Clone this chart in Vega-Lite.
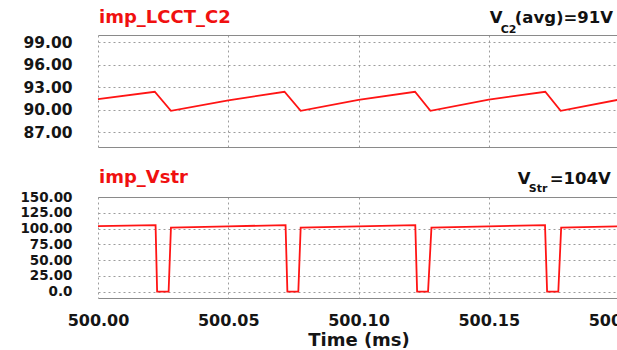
{
  "$schema": "https://vega.github.io/schema/vega-lite/v6.json",
  "background": "white",
  "padding": {"left": 19, "top": 8, "right": 0, "bottom": 0},
  "spacing": 21,
  "config": {
    "view": {"stroke": null},
    "axis": {
      "labelFont": "DejaVu Sans",
      "labelFontWeight": "bold",
      "labelFontSize": 15.5,
      "labelColor": "#151515",
      "labelOverlap": false,
      "labelFlush": false,
      "ticks": false,
      "tickSize": 0,
      "domain": false,
      "gridColor": "#9c9c9c",
      "gridDash": [2, 3],
      "gridWidth": 1
    }
  },
  "datasets": {
    "c2": [
      {"t": 500.0, "v": 91.41},
      {"t": 500.0218, "v": 92.4},
      {"t": 500.028, "v": 89.84},
      {"t": 500.05, "v": 91.25},
      {"t": 500.0716, "v": 92.4},
      {"t": 500.0778, "v": 89.84},
      {"t": 500.1, "v": 91.3},
      {"t": 500.1217, "v": 92.4},
      {"t": 500.1276, "v": 89.84},
      {"t": 500.15, "v": 91.35},
      {"t": 500.1717, "v": 92.4},
      {"t": 500.1776, "v": 89.84},
      {"t": 500.2, "v": 91.35}
    ],
    "vstr": [
      {"t": 500.0, "v": 104},
      {"t": 500.0221, "v": 105.5},
      {"t": 500.0227, "v": 0},
      {"t": 500.0271, "v": 0},
      {"t": 500.028, "v": 101.5},
      {"t": 500.05, "v": 103.5},
      {"t": 500.072, "v": 105.5},
      {"t": 500.0727, "v": 0},
      {"t": 500.0769, "v": 0},
      {"t": 500.0778, "v": 101.5},
      {"t": 500.1, "v": 103.5},
      {"t": 500.1218, "v": 105.5},
      {"t": 500.1225, "v": 0},
      {"t": 500.1267, "v": 0},
      {"t": 500.128, "v": 101.5},
      {"t": 500.15, "v": 103.5},
      {"t": 500.1716, "v": 105.5},
      {"t": 500.1724, "v": 0},
      {"t": 500.1767, "v": 0},
      {"t": 500.1778, "v": 101.5},
      {"t": 500.2, "v": 103.5}
    ]
  },
  "vconcat": [
    {
      "width": 521,
      "height": 112,
      "resolve": {"axis": {"x": "independent", "y": "independent"}},
      "layer": [
        {
          "data": {"name": "c2"},
          "mark": {"type": "line", "color": "#ff1414", "strokeWidth": 1.8},
          "encoding": {
            "x": {"field": "t", "type": "quantitative",
                  "scale": {"domain": [500, 500.2], "nice": false, "zero": false},
                  "axis": {"orient": "bottom", "values": [500, 500.05, 500.1, 500.15, 500.2], "labels": false, "title": null, "grid": true, "domain": true, "domainColor": "#8a8a8a"}},
            "y": {"field": "v", "type": "quantitative",
                  "scale": {"domain": [85, 100], "nice": false, "zero": false},
                  "axis": {"orient": "left", "values": [87, 90, 93, 96, 99], "format": ".2f", "title": null, "labelPadding": 26, "grid": true}}
          }
        },
        {
          "data": {"values": [{"text": "imp_LCCT_C2"}]},
          "mark": {"type": "text", "align": "left", "baseline": "alphabetic", "dx": 1, "dy": -12.5, "font": "DejaVu Sans", "fontWeight": "bold", "fontSize": 18, "color": "#f01010"},
          "encoding": {
            "x": {"datum": 500, "type": "quantitative", "scale": {"domain": [500, 500.2], "nice": false, "zero": false},
                  "axis": {"orient": "top", "labels": false, "grid": false, "domain": true, "domainColor": "#8a8a8a", "title": null}},
            "y": {"datum": 100, "type": "quantitative", "scale": {"domain": [85, 100], "nice": false, "zero": false}, "axis": null},
            "text": {"field": "text"}
          }
        },
        {
          "data": {"values": [{"text": "V"}]},
          "mark": {"type": "text", "align": "left", "baseline": "alphabetic", "dx": 1, "dy": -11.7, "font": "DejaVu Sans", "fontWeight": "bold", "fontSize": 16.5, "color": "#111"},
          "encoding": {
            "x": {"datum": 500.15, "type": "quantitative", "scale": {"domain": [500, 500.2], "nice": false, "zero": false}, "axis": null},
            "y": {"datum": 100, "type": "quantitative", "scale": {"domain": [85, 100], "nice": false, "zero": false}, "axis": null},
            "text": {"field": "text"}
          }
        },
        {
          "data": {"values": [{"text": "C2"}]},
          "mark": {"type": "text", "align": "left", "baseline": "alphabetic", "dx": 12, "dy": -2.5, "font": "DejaVu Sans", "fontWeight": "bold", "fontSize": 11, "color": "#111"},
          "encoding": {
            "x": {"datum": 500.15, "type": "quantitative", "scale": {"domain": [500, 500.2], "nice": false, "zero": false}, "axis": null},
            "y": {"datum": 100, "type": "quantitative", "scale": {"domain": [85, 100], "nice": false, "zero": false}, "axis": null},
            "text": {"field": "text"}
          }
        },
        {
          "data": {"values": [{"text": "(avg)=91V"}]},
          "mark": {"type": "text", "align": "left", "baseline": "alphabetic", "dx": 26, "dy": -11.7, "font": "DejaVu Sans", "fontWeight": "bold", "fontSize": 16.5, "color": "#111"},
          "encoding": {
            "x": {"datum": 500.15, "type": "quantitative", "scale": {"domain": [500, 500.2], "nice": false, "zero": false}, "axis": null},
            "y": {"datum": 100, "type": "quantitative", "scale": {"domain": [85, 100], "nice": false, "zero": false}, "axis": null},
            "text": {"field": "text"}
          }
        }
      ]
    },
    {
      "width": 521,
      "height": 101,
      "resolve": {"axis": {"x": "independent", "y": "independent"}},
      "layer": [
        {
          "data": {"name": "vstr"},
          "mark": {"type": "line", "color": "#ff1414", "strokeWidth": 1.8},
          "encoding": {
            "x": {"field": "t", "type": "quantitative",
                  "scale": {"domain": [500, 500.2], "nice": false, "zero": false},
                  "axis": {"orient": "bottom", "values": [500, 500.05, 500.1, 500.15, 500.2], "format": ".2f", "labelFontSize": 16, "labelPadding": 14, "grid": true, "domain": true, "domainColor": "#8a8a8a",
                           "title": "Time (ms)", "titleFont": "DejaVu Sans", "titleFontWeight": "bold", "titleFontSize": 18, "titleColor": "#151515", "titlePadding": 3}},
            "y": {"field": "v", "type": "quantitative",
                  "scale": {"domain": [-10, 150], "nice": false, "zero": false},
                  "axis": {"orient": "left", "values": [0, 25, 50, 75, 100, 125, 150], "labelExpr": "datum.value == 0 ? '0.0' : format(datum.value, '.2f')", "labelFontSize": 13.5, "title": null, "labelPadding": 26, "grid": true}}
          }
        },
        {
          "data": {"values": [{"text": "imp_Vstr"}]},
          "mark": {"type": "text", "align": "left", "baseline": "alphabetic", "dx": 1, "dy": -14.4, "font": "DejaVu Sans", "fontWeight": "bold", "fontSize": 18, "color": "#f01010"},
          "encoding": {
            "x": {"datum": 500, "type": "quantitative", "scale": {"domain": [500, 500.2], "nice": false, "zero": false},
                  "axis": {"orient": "top", "labels": false, "grid": false, "domain": true, "domainColor": "#8a8a8a", "title": null}},
            "y": {"datum": 150, "type": "quantitative", "scale": {"domain": [-10, 150], "nice": false, "zero": false}, "axis": null},
            "text": {"field": "text"}
          }
        },
        {
          "data": {"values": [{"text": "V"}]},
          "mark": {"type": "text", "align": "left", "baseline": "alphabetic", "dx": 29, "dy": -13.4, "font": "DejaVu Sans", "fontWeight": "bold", "fontSize": 16.5, "color": "#111"},
          "encoding": {
            "x": {"datum": 500.15, "type": "quantitative", "scale": {"domain": [500, 500.2], "nice": false, "zero": false}, "axis": null},
            "y": {"datum": 150, "type": "quantitative", "scale": {"domain": [-10, 150], "nice": false, "zero": false}, "axis": null},
            "text": {"field": "text"}
          }
        },
        {
          "data": {"values": [{"text": "Str"}]},
          "mark": {"type": "text", "align": "left", "baseline": "alphabetic", "dx": 40, "dy": -5, "font": "DejaVu Sans", "fontWeight": "bold", "fontSize": 11, "color": "#111"},
          "encoding": {
            "x": {"datum": 500.15, "type": "quantitative", "scale": {"domain": [500, 500.2], "nice": false, "zero": false}, "axis": null},
            "y": {"datum": 150, "type": "quantitative", "scale": {"domain": [-10, 150], "nice": false, "zero": false}, "axis": null},
            "text": {"field": "text"}
          }
        },
        {
          "data": {"values": [{"text": "=104V"}]},
          "mark": {"type": "text", "align": "left", "baseline": "alphabetic", "dx": 61, "dy": -13.4, "font": "DejaVu Sans", "fontWeight": "bold", "fontSize": 16.5, "color": "#111"},
          "encoding": {
            "x": {"datum": 500.15, "type": "quantitative", "scale": {"domain": [500, 500.2], "nice": false, "zero": false}, "axis": null},
            "y": {"datum": 150, "type": "quantitative", "scale": {"domain": [-10, 150], "nice": false, "zero": false}, "axis": null},
            "text": {"field": "text"}
          }
        }
      ]
    }
  ]
}
